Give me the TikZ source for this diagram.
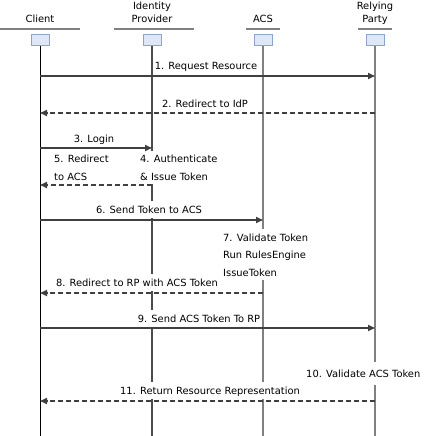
\documentclass[tikz,border=0pt]{standalone}
\usepackage{fontspec}
\usepackage{tikz}
\usetikzlibrary{arrows.meta}
\newfontfamily\vfont{DejaVu Sans}
\definecolor{hd}{RGB}{128, 128, 128}
\definecolor{bf}{RGB}{222, 231, 246}
\definecolor{bd}{RGB}{142, 164, 216}
\definecolor{ln}{RGB}{64, 64, 64}

\begin{document}
\begin{tikzpicture}[
  txt/.style={font=\vfont\fontsize{9.9}{13}\selectfont, inner sep=0pt},
  lab/.style={font=\vfont\fontsize{9.9}{17.5}\selectfont, fill=white, inner xsep=2pt, inner ysep=2pt, text height=10pt, text depth=3pt},
  note/.style={font=\vfont\fontsize{9.9}{17.5}\selectfont, fill=white, inner xsep=2pt, inner ysep=4pt, align=left, anchor=base west},
  lbox/.style={draw=bd, fill=bf, minimum width=18pt, minimum height=11pt, inner sep=0pt, line width=1pt},
  msg/.style={line width=1.6pt, color=ln, -{Triangle[length=7pt,width=6pt]}},
  ret/.style={msg, dash pattern=on 5pt off 3pt}]
\useasboundingbox (0pt,0pt) rectangle (423pt,-436pt);
% actors
\node (t1) [txt, anchor=base] at (40pt, -23pt) {Client};
\node (t2) [txt, anchor=base, align=center] at (152pt, -23pt) {Identity\\Provider};
\node (t3) [txt, anchor=base] at (263pt, -23pt) {ACS};
\node (t4) [txt, anchor=base, align=center] at (375pt, -23pt) {Relying\\Party};
\draw [line width=2pt, color=hd] (0pt, -29pt) -- (80pt, -29pt);
\draw [line width=2pt, color=hd] (114pt, -29pt) -- (194pt, -29pt);
\draw [line width=2pt, color=hd] (246pt, -29pt) -- (280pt, -29pt);
\draw [line width=2pt, color=hd] (358pt, -29pt) -- (392pt, -29pt);
\node (1) [lbox] at (40pt, -40pt) {};
\node (2) [lbox] at (152pt, -40pt) {};
\node (3) [lbox] at (263pt, -40pt) {};
\node (4) [lbox] at (375pt, -40pt) {};
\coordinate (1e) at (40pt, -436pt);
\coordinate (2e) at (152pt, -436pt);
\coordinate (3e) at (263pt, -436pt);
\coordinate (4e) at (375pt, -436pt);
\draw [line width=1pt, color=black] (1) -- (1e);
\draw [line width=1.2pt, color=black!70] (2) -- (2e);
\draw [line width=2pt, color=hd] (3) -- (3e);
\draw [line width=2pt, color=hd] (4) -- (4e);
% labels
\node (m1) [lab, anchor=base] at (206pt, -70pt) {1. Request Resource};
\node (m2) [lab, anchor=base] at (205pt, -107pt) {2. Redirect to IdP};
\node (m3) [lab, anchor=base] at (94pt, -142pt) {3. Login};
\node (m4) [note] at (138pt, -180pt) {4. Authenticate\\\& Issue Token};
\node (m5) [note] at (52pt, -180pt) {5. Redirect\\to ACS};
\node (m6) [lab, anchor=base] at (149pt, -213pt) {6. Send Token to ACS};
\node (m7) [note] at (221pt, -276pt) {7. Validate Token\\Run RulesEngine\\IssueToken};
\node (m8) [lab, anchor=base] at (137pt, -286pt) {8. Redirect to RP with ACS Token};
\node (m9) [lab, anchor=base] at (199pt, -322pt) {9. Send ACS Token To RP};
\node (m10) [lab, anchor=base west, inner ysep=5pt] at (304pt, -377pt) {10. Validate ACS Token};
\node (m11) [lab, anchor=base] at (210pt, -394pt) {11. Return Resource Representation};
% messages
\draw [msg] (1 |- 0pt,-76pt) -- (4 |- 0pt,-76pt);
\draw [ret] (4 |- 0pt,-113pt) -- (1 |- 0pt,-113pt);
\draw [msg] (1 |- 0pt,-148pt) -- (2 |- 0pt,-148pt);
\draw [ret] (2 |- 0pt,-185pt) -- (1 |- 0pt,-185pt);
\draw [msg] (1 |- 0pt,-220pt) -- (3 |- 0pt,-220pt);
\draw [ret] (3 |- 0pt,-293pt) -- (1 |- 0pt,-293pt);
\draw [msg] (1 |- 0pt,-328pt) -- (4 |- 0pt,-328pt);
\draw [ret] (4 |- 0pt,-401pt) -- (1 |- 0pt,-401pt);
\end{tikzpicture}
\end{document}
